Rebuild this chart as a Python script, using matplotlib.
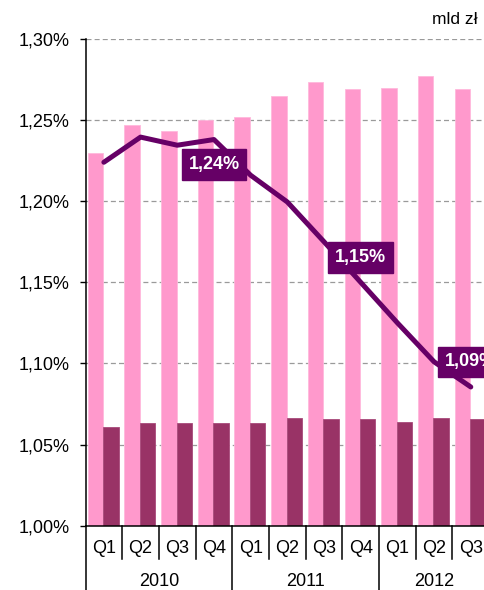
import matplotlib
matplotlib.use("Agg")
import matplotlib.pyplot as plt
from matplotlib.ticker import FuncFormatter
import matplotlib.transforms as mtransforms

plt.rcParams['font.family'] = ['Liberation Sans', 'DejaVu Sans']

quarters = ["Q1", "Q2", "Q3", "Q4", "Q1", "Q2", "Q3", "Q4", "Q1", "Q2", "Q3"]
years = ["2010", "2011", "2012"]
year_spans = [(0, 3), (4, 7), (8, 10)]
pink_vals = [1.230, 1.247, 1.243, 1.250, 1.252, 1.265, 1.2735, 1.269, 1.270, 1.277, 1.269]
dark_vals = [1.061, 1.063, 1.063, 1.063, 1.063, 1.0665, 1.0657, 1.0657, 1.0638, 1.0665, 1.0657]
line_vals = [1.224, 1.2395, 1.2345, 1.238, 1.216, 1.1995, 1.175, 1.150, 1.125, 1.101, 1.0855]
labels = {3: ("1,24%", -1), 7: ("1,15%", 1), 10: ("1,09%", 1)}
yticks = [1.00, 1.05, 1.10, 1.15, 1.20, 1.25, 1.30]

PINK = "#FF99CC"
DARK = "#993366"
LINE = "#660066"

fig = plt.figure(figsize=(4.84, 5.90), dpi=100)
ax = fig.add_axes([0.1767, 0.109, 1.0 - 0.1767, 0.825])

x = list(range(len(quarters)))
ymin, ymax = 1.00, 1.30
ax.bar([i - 0.23 for i in x], [v - ymin for v in pink_vals], width=0.42, bottom=ymin,
       color=PINK, edgecolor="#FFB8DC", linewidth=0.6, zorder=2)
ax.bar([i + 0.19 for i in x], [v - ymin for v in dark_vals], width=0.42, bottom=ymin,
       color=DARK, edgecolor="#A84A7A", linewidth=0.6, zorder=2)
ax.plot(x, line_vals, color=LINE, linewidth=3.6, solid_capstyle='round',
        solid_joinstyle='round', zorder=3)

for i, (txt, d) in labels.items():
    ax.annotate(txt, (i, line_vals[i]), xytext=(0, 18 * d), textcoords='offset points',
                ha='center', va='center', color='white', fontsize=13, fontweight='bold',
                bbox=dict(boxstyle='square,pad=0.38', fc=LINE, ec=LINE), zorder=5,
                annotation_clip=False)

ax.set_ylim(ymin, ymax)
ax.set_xlim(-0.5, 10.36)
ax.set_yticks(yticks)
ax.yaxis.set_major_formatter(FuncFormatter(lambda v, p: f"{v:.2f}".replace(".", ",") + "%"))
ax.tick_params(axis='y', length=4.5, width=1, pad=7, labelsize=13, colors='black')
ax.set_xticks([])
for yv in yticks[1:]:
    ax.axhline(yv, color="#9A9A9A", linestyle=(0, (4, 2.5)), linewidth=0.9, zorder=1)

for s in ['top', 'right']:
    ax.spines[s].set_visible(False)
ax.spines['left'].set_linewidth(1.1)
ax.spines['bottom'].set_linewidth(1.1)

trans = mtransforms.blended_transform_factory(ax.transData, ax.transAxes)
sep_short = -0.068
sep_long = -0.14
for k in range(len(quarters) + 1):
    xb = k - 0.5
    is_year = xb in (-0.5, 3.5, 7.5)
    ax.plot([xb, xb], [0, sep_long if is_year else sep_short], transform=trans,
            color='black', linewidth=1.1, clip_on=False)
for i, q in enumerate(quarters):
    ax.text(i, -0.046, q, transform=trans, ha='center', va='center', fontsize=13)
for yname, (a, b) in zip(years, year_spans):
    ax.text((a + b) / 2, -0.115, yname, transform=trans, ha='center', va='center', fontsize=13)

fig.text(478 / 484, 1 - 19 / 590, "mld zł", ha='right', va='center', fontsize=12.5)

fig.savefig("out.png", dpi=100)
